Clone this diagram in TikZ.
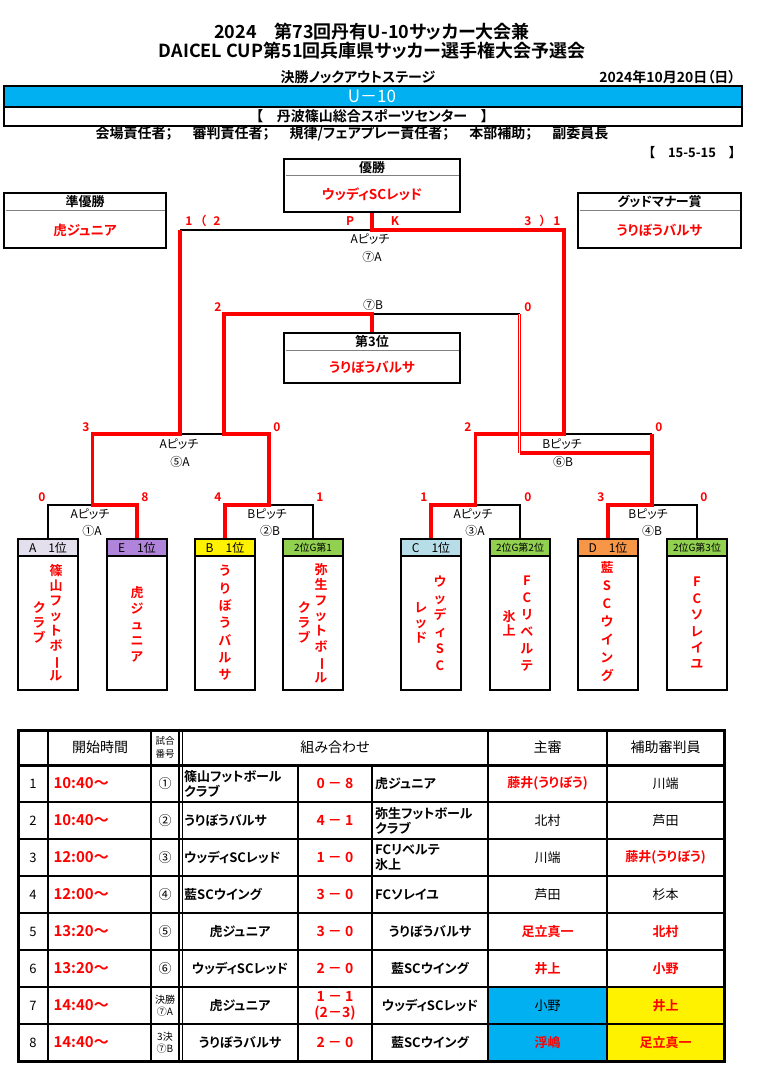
\documentclass[tikz,border=0pt]{standalone}
\usepackage{fontspec}
\usepackage{graphicx}
\setmainfont{Noto Sans CJK JP}[BoldFont={Noto Sans CJK JP Bold},RawFeature=+palt]
\definecolor{barblue}{RGB}{0,176,240}
\definecolor{lavA}{RGB}{228,223,236}
\definecolor{purE}{RGB}{177,132,220}
\definecolor{grnG}{RGB}{146,208,80}
\definecolor{bluC}{RGB}{183,222,232}
\definecolor{oraD}{RGB}{247,150,70}
\newcommand{\tatebar}{\rotatebox[origin=c]{-90}{ー}}

\begin{document}
\begin{tikzpicture}[x=1pt,y=-1pt,
  boxline/.style={draw,line width=2.5pt},
  win/.style={red,line width=3.3pt},
  lost/.style={black,line width=1.6pt},
  dbl/.style={red,line width=0.8pt,double=white,double distance=1.2pt},
  title/.style={font=\bfseries\fontsize{18}{18}\selectfont},
  hd/.style={font=\bfseries\fontsize{13}{13}\selectfont},
  resbox/.style={boxline,minimum width=176pt,minimum height=53pt,inner sep=0pt},
  team/.style={text=red,font=\bfseries\fontsize{13.5}{13.5}\selectfont},
  score/.style={text=red,font=\bfseries\fontsize{12}{12}\selectfont},
  pitch/.style={font=\fontsize{12}{12}\selectfont},
  tmhead/.style={boxline,minimum width=60pt,minimum height=17pt,inner sep=0pt,font=\fontsize{12}{12}\selectfont},
  tmbody/.style={boxline,minimum width=60pt,minimum height=134pt,inner sep=0pt},
  vname/.style={text=red,align=center,inner sep=0pt,font=\bfseries\fontsize{13}{#1}\selectfont},
  th/.style={font=\fontsize{14}{14}\selectfont},
  cell/.style={font=\fontsize{13}{13}\selectfont},
  small/.style={align=center,font=\fontsize{10}{12.5}\selectfont},
  bcell/.style={align=left,inner xsep=1pt,font=\bfseries\fontsize{13}{15}\selectfont},
  rcell/.style={text=red,font=\bfseries\fontsize{13}{13}\selectfont},
  tm/.style={anchor=west,text=red,font=\bfseries\fontsize{15}{15}\selectfont},
  sc/.style={align=center,text=red,font=\bfseries\fontsize{14}{16}\selectfont},
  grid/.style={line width=1.8pt}]
\useasboundingbox (0,0) rectangle (759,1075);

% header
\node[title] (title1) at (372,32) {2024　第73回丹有U-10サッカー大会兼};
\node[title] (title2) at (372,51) {DAICEL CUP第51回兵庫県サッカー選手権大会予選会};
\node[hd,font=\bfseries\fontsize{14}{14}\selectfont] (stage) at (358,77) {決勝ノックアウトステージ};
\node[hd,anchor=east,font=\bfseries\fontsize{14}{14}\selectfont] (date) at (739,77) {2024年10月20日（日）};
\draw[boxline,fill=barblue] (4,86) rectangle (742,107);
\node[text=white,font=\fontsize{17}{17}\selectfont] (age) at (372,96.5) {U－10};
\draw[boxline] (4,107) rectangle (742,126);
\node[hd,font=\bfseries\fontsize{14}{14}\selectfont] (venue) at (372,116.5) {【　丹波篠山総合スポーツセンター　】};
\node[hd,font=\bfseries\fontsize{14}{14}\selectfont] (staff) at (352,134) {会場責任者；\hspace{20pt}審判責任者；\hspace{20pt}規律/フェアプレー責任者；\hspace{20pt}本部補助；\hspace{20pt}副委員長};
\node[hd,anchor=east] (rule) at (739,153) {【　15-5-15　】};

% result boxes
\node[resbox] (champ) at (372,185.5) {};
\draw[gray,line width=1pt] (285.5,176) -- (458.5,176);
\node[hd] (champH) at (372,168) {優勝};
\node[team] (champT) at (372,194) {ウッディSCレッド};
\node[resbox,minimum width=162pt,minimum height=55pt] (second) at (85,220.5) {};
\draw[gray,line width=1pt] (5.5,211) -- (164.5,211);
\node[hd] (secondH) at (85,202) {準優勝};
\node[team] (secondT) at (85,230) {虎ジュニア};
\node[resbox,minimum width=163pt,minimum height=55pt] (manner) at (659.5,220.5) {};
\draw[gray,line width=1pt] (579.5,211) -- (739.5,211);
\node[hd] (mannerH) at (659.5,202) {グッドマナー賞};
\node[team] (mannerT) at (659.5,230) {うりぼうバルサ};
\node[resbox,minimum height=50pt] (third) at (372,358) {};
\draw[gray,line width=1pt] (285.5,350) -- (458.5,350);
\node[hd] (thirdH) at (372,342) {第3位};
\node[team] (thirdT) at (372,367) {うりぼうバルサ};

% team boxes
\node[tmhead,fill=lavA] (hA) at (48,547.5) {A　1位};
\node[tmhead,fill=purE] (hE) at (137,547.5) {E　1位};
\node[tmhead,fill=yellow] (hB) at (225,547.5) {B　1位};
\node[tmhead,fill=grnG,font=\fontsize{10}{10}\selectfont] (hG1) at (313,547.5) {2位G第1};
\node[tmhead,fill=bluC] (hC) at (431,547.5) {C　1位};
\node[tmhead,fill=grnG,font=\fontsize{10}{10}\selectfont] (hG2) at (520,547.5) {2位G第2位};
\node[tmhead,fill=oraD] (hD) at (608,547.5) {D　1位};
\node[tmhead,fill=grnG,font=\fontsize{10}{10}\selectfont] (hG3) at (697,547.5) {2位G第3位};
\node[tmbody] (bA) at (48,623) {};
\node[tmbody] (bE) at (137,623) {};
\node[tmbody] (bB) at (225,623) {};
\node[tmbody] (bG1) at (313,623) {};
\node[tmbody] (bC) at (431,623) {};
\node[tmbody] (bG2) at (520,623) {};
\node[tmbody] (bD) at (608,623) {};
\node[tmbody] (bG3) at (697,623) {};
\node[vname=15] (nA) at (56,623) {篠\\山\\フ\\ッ\\ト\\ボ\\\tatebar\\ル};
\node[vname=15] (nA2) at (39,622) {ク\\ラ\\ブ};
\node[vname=16] (nE) at (137,624) {虎\\ジ\\ュ\\ニ\\ア};
\node[vname=17.3] (nB) at (225,623) {う\\り\\ぼ\\う\\バ\\ル\\サ};
\node[vname=15.4] (nG1) at (321,623) {弥\\生\\フ\\ッ\\ト\\ボ\\\tatebar\\ル};
\node[vname=15] (nG1b) at (304,622) {ク\\ラ\\ブ};
\node[vname=16.8] (nC) at (440,623) {ウ\\ッ\\デ\\ィ\\S\\C};
\node[vname=15] (nC2) at (421,623) {レ\\ッ\\ド};
\node[vname=17] (nG2) at (527,624) {F\\C\\リ\\ベ\\ル\\テ};
\node[vname=14] (nG2b) at (509,623) {氷\\上};
\node[vname=18] (nD) at (607,622) {藍\\S\\C\\ウ\\イ\\ン\\グ};
\node[vname=16.4] (nG3) at (697,623) {F\\C\\ソ\\レ\\イ\\ユ};

% bracket points
\coordinate (fL) at (180,230);
\coordinate (fC) at (372,230);
\coordinate (fR) at (564,230);
\coordinate (tL) at (224,314);
\coordinate (tC) at (372,314);
\coordinate (tR) at (519.5,314);
\coordinate (sAm) at (180,434);
\coordinate (sAn) at (224,434);
\coordinate (sBm) at (564,434);
\coordinate (sBr) at (652,434);
\coordinate (sBd) at (652,453);
\coordinate (sBx) at (519.5,453);
\coordinate (q1) at (92.5,505);
\coordinate (q2) at (269,505);
\coordinate (q3) at (475.5,505);
\coordinate (q4) at (652,505);

% lost lines
\draw[lost] (hA.north) |- (q1);
\draw[lost] (hG1.north) |- (q2);
\draw[lost] (hG2.north) |- (q3);
\draw[lost] (hG3.north) |- (q4);
\draw[lost] (sAm) -- (sAn);
\draw[lost] (sBm) -- (sBr);
\draw[lost] (tC) -- (tR);
\draw[lost] (fL) -- (fC);

% winners
\draw[win] (hE.north) |- (q1) |- (sAm) -- (fL);
\draw[win] (hB.north) |- (q2) |- (sAn) -- (tL) -- (tC) -- (third.north);
\draw[win] (hC.north) |- (q3) |- (sBm) -- (fR) -- (fC) -- (champ.south);
\draw[win] (hD.north) |- (q4) -- (sBr);
\draw[win] (sBd) -- (sBx);
\draw[dbl] (sBx) -- (tR);

% scores and pitches
\node[score] (fin1) at (189,221) {1};
\node[score] (finp) at (203,221) {（};
\node[score] (fin2) at (217,221) {2};
\node[score] (finP) at (350,221) {P};
\node[score] (finK) at (395,221) {K};
\node[score] (fin3) at (528,221) {3};
\node[score] (finq) at (543,221) {）};
\node[score] (fin4) at (557,221) {1};
\node[pitch] (finA) at (370,239) {Aピッチ};
\node[pitch] (finN) at (372,257) {⑦A};
\node[score] (trd1) at (218,307) {2};
\node[pitch] (trdN) at (373,305) {⑦B};
\node[score] (trd2) at (528,307) {0};
\node[score] (smA1) at (86,427) {3};
\node[score] (smA2) at (277,427) {0};
\node[pitch] (smAp) at (179,444) {Aピッチ};
\node[pitch] (smAn) at (180,462) {⑤A};
\node[score] (smB1) at (468,427) {2};
\node[score] (smB2) at (659,427) {0};
\node[pitch] (smBp) at (562,444) {Bピッチ};
\node[pitch] (smBn) at (563,462) {⑥B};
\node[score] (qf11) at (42,497) {0};
\node[score] (qf12) at (145,497) {8};
\node[pitch] (qf1p) at (90,514) {Aピッチ};
\node[pitch] (qf1n) at (92,531) {①A};
\node[score] (qf21) at (218,497) {4};
\node[score] (qf22) at (320,497) {1};
\node[pitch] (qf2p) at (267,514) {Bピッチ};
\node[pitch] (qf2n) at (270,531) {②B};
\node[score] (qf31) at (424,497) {1};
\node[score] (qf32) at (528,497) {0};
\node[pitch] (qf3p) at (473,514) {Aピッチ};
\node[pitch] (qf3n) at (475,531) {③A};
\node[score] (qf41) at (601,497) {3};
\node[score] (qf42) at (704,497) {0};
\node[pitch] (qf4p) at (648,514) {Bピッチ};
\node[pitch] (qf4n) at (652,531) {④B};

% table
\fill[barblue] (488,987) rectangle (607,1061);
\fill[yellow] (607,987) rectangle (724,1061);
\draw[grid] (18,802) -- (724,802) (18,839) -- (724,839) (18,876) -- (724,876)
  (18,913) -- (724,913) (18,950) -- (724,950) (18,987) -- (724,987) (18,1024) -- (724,1024);
\draw[grid] (48,730) -- (48,1061) (151,730) -- (151,1061) (607,730) -- (607,1061)
  (298,765) -- (298,1061) (372,765) -- (372,1061);
\draw[line width=1.2pt] (179,730) -- (179,1061) (182.5,730) -- (182.5,1061);
\draw[line width=2.6pt] (488,730) -- (488,1061);
\draw[line width=3pt] (18,765) -- (724,765);
\draw[line width=3pt] (18,730) rectangle (724,1061);

\node[th] (hTime) at (100,747.5) {開始時間};
\node[small,font=\fontsize{9.5}{12.5}\selectfont] (hMatch) at (165,747.5) {試合\\番号};
\node[th] (hPair) at (335,747.5) {組み合わせ};
\node[th] (hRef) at (547.5,747.5) {主審};
\node[th] (hAss) at (665.5,747.5) {補助審判員};

\node[cell] (n1) at (33,783.5) {1};
\node[tm] (t1) at (50,783.5) {10:40～};
\node[cell] (m1) at (165,783.5) {①};
\node[bcell,anchor=west] (a1) at (183,783.5) {篠山フットボール\\クラブ};
\node[sc] (s1) at (335,783.5) {0 － 8};
\node[bcell,anchor=west] (b1) at (374,783.5) {虎ジュニア};
\node[rcell] (r1) at (547.5,783.5) {藤井(うりぼう)};
\node[cell] (x1) at (665.5,783.5) {川端};

\node[cell] (n2) at (33,820.5) {2};
\node[tm] (t2) at (50,820.5) {10:40～};
\node[cell] (m2) at (165,820.5) {②};
\node[bcell,anchor=west] (a2) at (183,820.5) {うりぼうバルサ};
\node[sc] (s2) at (335,820.5) {4 － 1};
\node[bcell,anchor=west] (b2) at (374,820.5) {弥生フットボール\\クラブ};
\node[cell] (r2) at (547.5,820.5) {北村};
\node[cell] (x2) at (665.5,820.5) {芦田};

\node[cell] (n3) at (33,857.5) {3};
\node[tm] (t3) at (50,857.5) {12:00～};
\node[cell] (m3) at (165,857.5) {③};
\node[bcell,anchor=west] (a3) at (183,857.5) {ウッディSCレッド};
\node[sc] (s3) at (335,857.5) {1 － 0};
\node[bcell,anchor=west] (b3) at (374,857.5) {FCリベルテ\\氷上};
\node[cell] (r3) at (547.5,857.5) {川端};
\node[rcell] (x3) at (665.5,857.5) {藤井(うりぼう)};

\node[cell] (n4) at (33,894.5) {4};
\node[tm] (t4) at (50,894.5) {12:00～};
\node[cell] (m4) at (165,894.5) {④};
\node[bcell,anchor=west] (a4) at (183,894.5) {藍SCウイング};
\node[sc] (s4) at (335,894.5) {3 － 0};
\node[bcell,anchor=west] (b4) at (374,894.5) {FCソレイユ};
\node[cell] (r4) at (547.5,894.5) {芦田};
\node[cell] (x4) at (665.5,894.5) {杉本};

\node[cell] (n5) at (33,931.5) {5};
\node[tm] (t5) at (50,931.5) {13:20～};
\node[cell] (m5) at (165,931.5) {⑤};
\node[bcell] (a5) at (240,931.5) {虎ジュニア};
\node[sc] (s5) at (335,931.5) {3 － 0};
\node[bcell] (b5) at (430,931.5) {うりぼうバルサ};
\node[rcell] (r5) at (547.5,931.5) {足立真一};
\node[rcell] (x5) at (665.5,931.5) {北村};

\node[cell] (n6) at (33,968.5) {6};
\node[tm] (t6) at (50,968.5) {13:20～};
\node[cell] (m6) at (165,968.5) {⑥};
\node[bcell] (a6) at (240,968.5) {ウッディSCレッド};
\node[sc] (s6) at (335,968.5) {2 － 0};
\node[bcell] (b6) at (430,968.5) {藍SCウイング};
\node[rcell] (r6) at (547.5,968.5) {井上};
\node[rcell] (x6) at (665.5,968.5) {小野};

\node[cell] (n7) at (33,1005.5) {7};
\node[tm] (t7) at (50,1005.5) {14:40～};
\node[small] (m7) at (165,1005.5) {決勝\\⑦A};
\node[bcell] (a7) at (240,1005.5) {虎ジュニア};
\node[sc] (s7) at (335,1005.5) {1 － 1\\(2－3)};
\node[bcell] (b7) at (430,1005.5) {ウッディSCレッド};
\node[cell] (r7) at (547.5,1005.5) {小野};
\node[rcell] (x7) at (665.5,1005.5) {井上};

\node[cell] (n8) at (33,1042.5) {8};
\node[tm] (t8) at (50,1042.5) {14:40～};
\node[small] (m8) at (165,1042.5) {3決\\⑦B};
\node[bcell] (a8) at (240,1042.5) {うりぼうバルサ};
\node[sc] (s8) at (335,1042.5) {2 － 0};
\node[bcell] (b8) at (430,1042.5) {藍SCウイング};
\node[rcell] (r8) at (547.5,1042.5) {浮嶋};
\node[rcell] (x8) at (665.5,1042.5) {足立真一};
\end{tikzpicture}
\end{document}
